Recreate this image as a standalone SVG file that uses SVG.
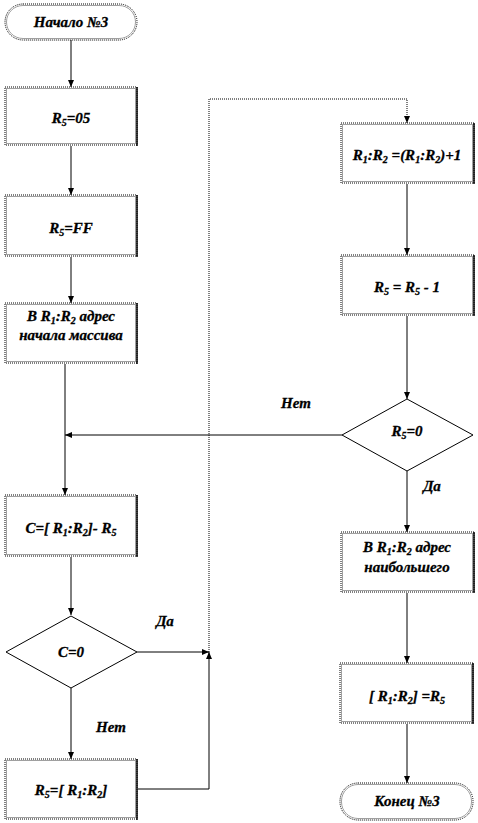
<svg xmlns="http://www.w3.org/2000/svg" width="478" height="823" viewBox="0 0 478 823">
<style>
.box{fill:#fff;stroke:#000;stroke-width:1;stroke-dasharray:1 1}
.in{fill:none;stroke:#a0a0a0;stroke-width:1}
.rs{stroke:#000;stroke-width:1.5}
.dm{fill:#fff;stroke:#000;stroke-width:1}
.ln{fill:none;stroke:#000;stroke-width:1}
.dt{fill:none;stroke:#000;stroke-width:1;stroke-dasharray:1 1}
text{font-family:'Liberation Serif','DejaVu Serif',serif;font-weight:bold;font-style:italic;font-size:15px;text-anchor:middle;fill:#000;stroke:#000;stroke-width:0.3}
.s{font-size:10px}
</style>
<defs>
<marker id="ar" markerWidth="8" markerHeight="8" refX="7" refY="4" orient="auto" markerUnits="userSpaceOnUse">
<path d="M0,1 L7,4 L0,7 Z" fill="#000"/>
</marker>
</defs>
<rect width="478" height="823" fill="#fff"/>
<g id="connectors">
<line class="ln" x1="71" y1="40" x2="71" y2="87" marker-end="url(#ar)"/>
<line class="ln" x1="71" y1="146" x2="71" y2="195" marker-end="url(#ar)"/>
<line class="ln" x1="71" y1="257" x2="71" y2="303" marker-end="url(#ar)"/>
<line class="ln" x1="65" y1="364" x2="65" y2="495" marker-end="url(#ar)"/>
<line class="ln" x1="342" y1="435" x2="65" y2="435" marker-end="url(#ar)"/>
<line class="ln" x1="71" y1="557" x2="71" y2="615" marker-end="url(#ar)"/>
<line class="ln" x1="137" y1="652" x2="209" y2="652" marker-end="url(#ar)"/>
<line class="ln" x1="71" y1="688" x2="71" y2="759" marker-end="url(#ar)"/>
<polyline class="ln" points="138,789 209,789 209,652" marker-end="url(#ar)"/>
<polyline class="dt" points="209,652 209,99 407,99 407,123" marker-end="url(#ar)"/>
<line class="ln" x1="407" y1="184" x2="407" y2="255" marker-end="url(#ar)"/>
<line class="ln" x1="407" y1="316" x2="407" y2="399" marker-end="url(#ar)"/>
<line class="ln" x1="407" y1="471" x2="407" y2="532" marker-end="url(#ar)"/>
<line class="ln" x1="407" y1="593" x2="407" y2="663" marker-end="url(#ar)"/>
<line class="ln" x1="407" y1="724" x2="407" y2="783" marker-end="url(#ar)"/>
<text x="165" y="626">Да</text>
<text x="111" y="732">Нет</text>
<text x="296" y="408">Нет</text>
<text x="432" y="491">Да</text>
</g>
<g id="start">
<rect class="box" x="5" y="4" width="132" height="36" rx="18"/>
<rect class="in" x="6.5" y="5.5" width="129" height="33" rx="16.5"/>
<text x="71" y="27">Начало №3</text>
</g>
<g id="r5_05">
<rect class="box" x="5" y="87" width="132" height="58"/>
<rect class="in" x="6.5" y="88.5" width="129" height="55"/>
<line class="rs" x1="137" y1="87" x2="137" y2="146"/>
<text x="71" y="123">R<tspan class="s" dy="3">5</tspan><tspan dy="-3">=05</tspan></text>
</g>
<g id="r5_ff">
<rect class="box" x="5" y="195" width="132" height="61"/>
<rect class="in" x="6.5" y="196.5" width="129" height="58"/>
<line class="rs" x1="137" y1="195" x2="137" y2="257"/>
<text x="71" y="233">R<tspan class="s" dy="3">5</tspan><tspan dy="-3">=FF</tspan></text>
</g>
<g id="addr_start">
<rect class="box" x="5" y="303" width="132" height="60"/>
<rect class="in" x="6.5" y="304.5" width="129" height="57"/>
<line class="rs" x1="137" y1="303" x2="137" y2="364"/>
<text x="71" y="321">В R<tspan class="s" dy="3">1</tspan><tspan dy="-3">:R</tspan><tspan class="s" dy="3">2</tspan><tspan dy="-3"> адрес</tspan></text>
<text x="71" y="340">начала массива</text>
</g>
<g id="c_calc">
<rect class="box" x="5" y="495" width="132" height="61"/>
<rect class="in" x="6.5" y="496.5" width="129" height="58"/>
<line class="rs" x1="137" y1="495" x2="137" y2="557"/>
<text x="71" y="533">C=[ R<tspan class="s" dy="3">1</tspan><tspan dy="-3">:R</tspan><tspan class="s" dy="3">2</tspan><tspan dy="-3">]- R</tspan><tspan class="s" dy="3">5</tspan></text>
</g>
<g id="c_zero">
<polygon class="dm" points="71,616 137,652 71,688 6,652"/>
<text x="71" y="657">C=0</text>
</g>
<g id="r5_load">
<rect class="box" x="5" y="759" width="132" height="60"/>
<rect class="in" x="6.5" y="760.5" width="129" height="57"/>
<line class="rs" x1="137" y1="759" x2="137" y2="820"/>
<text x="71" y="795">R<tspan class="s" dy="3">5</tspan><tspan dy="-3">=[ R</tspan><tspan class="s" dy="3">1</tspan><tspan dy="-3">:R</tspan><tspan class="s" dy="3">2</tspan><tspan dy="-3">]</tspan></text>
</g>
<g id="inc">
<rect class="box" x="341" y="123" width="133" height="60"/>
<rect class="in" x="342.5" y="124.5" width="130" height="57"/>
<line class="rs" x1="474" y1="123" x2="474" y2="184"/>
<text x="407" y="160">R<tspan class="s" dy="3">1</tspan><tspan dy="-3">:R</tspan><tspan class="s" dy="3">2</tspan><tspan dy="-3"> =(R</tspan><tspan class="s" dy="3">1</tspan><tspan dy="-3">:R</tspan><tspan class="s" dy="3">2</tspan><tspan dy="-3">)+1</tspan></text>
</g>
<g id="dec">
<rect class="box" x="341" y="255" width="133" height="60"/>
<rect class="in" x="342.5" y="256.5" width="130" height="57"/>
<line class="rs" x1="474" y1="255" x2="474" y2="316"/>
<text x="407" y="292">R<tspan class="s" dy="3">5</tspan><tspan dy="-3"> = R</tspan><tspan class="s" dy="3">5</tspan><tspan dy="-3"> - 1</tspan></text>
</g>
<g id="r5_zero">
<polygon class="dm" points="407,399 473,435 407,471 342,435"/>
<text x="407" y="436">R<tspan class="s" dy="3">5</tspan><tspan dy="-3">=0</tspan></text>
</g>
<g id="addr_max">
<rect class="box" x="341" y="532" width="133" height="60"/>
<rect class="in" x="342.5" y="533.5" width="130" height="57"/>
<line class="rs" x1="474" y1="532" x2="474" y2="593"/>
<text x="407" y="552">В R<tspan class="s" dy="3">1</tspan><tspan dy="-3">:R</tspan><tspan class="s" dy="3">2</tspan><tspan dy="-3"> адрес</tspan></text>
<text x="407" y="572">наибольшего</text>
</g>
<g id="store">
<rect class="box" x="340" y="663" width="133" height="60"/>
<rect class="in" x="341.5" y="664.5" width="130" height="57"/>
<line class="rs" x1="473" y1="663" x2="473" y2="724"/>
<text x="407" y="701">[ R<tspan class="s" dy="3">1</tspan><tspan dy="-3">:R</tspan><tspan class="s" dy="3">2</tspan><tspan dy="-3">] =R</tspan><tspan class="s" dy="3">5</tspan></text>
</g>
<g id="end">
<rect class="box" x="340" y="783" width="133" height="37" rx="18"/>
<rect class="in" x="341.5" y="784.5" width="130" height="34" rx="16.5"/>
<text x="407" y="806">Конец №3</text>
</g>
</svg>
